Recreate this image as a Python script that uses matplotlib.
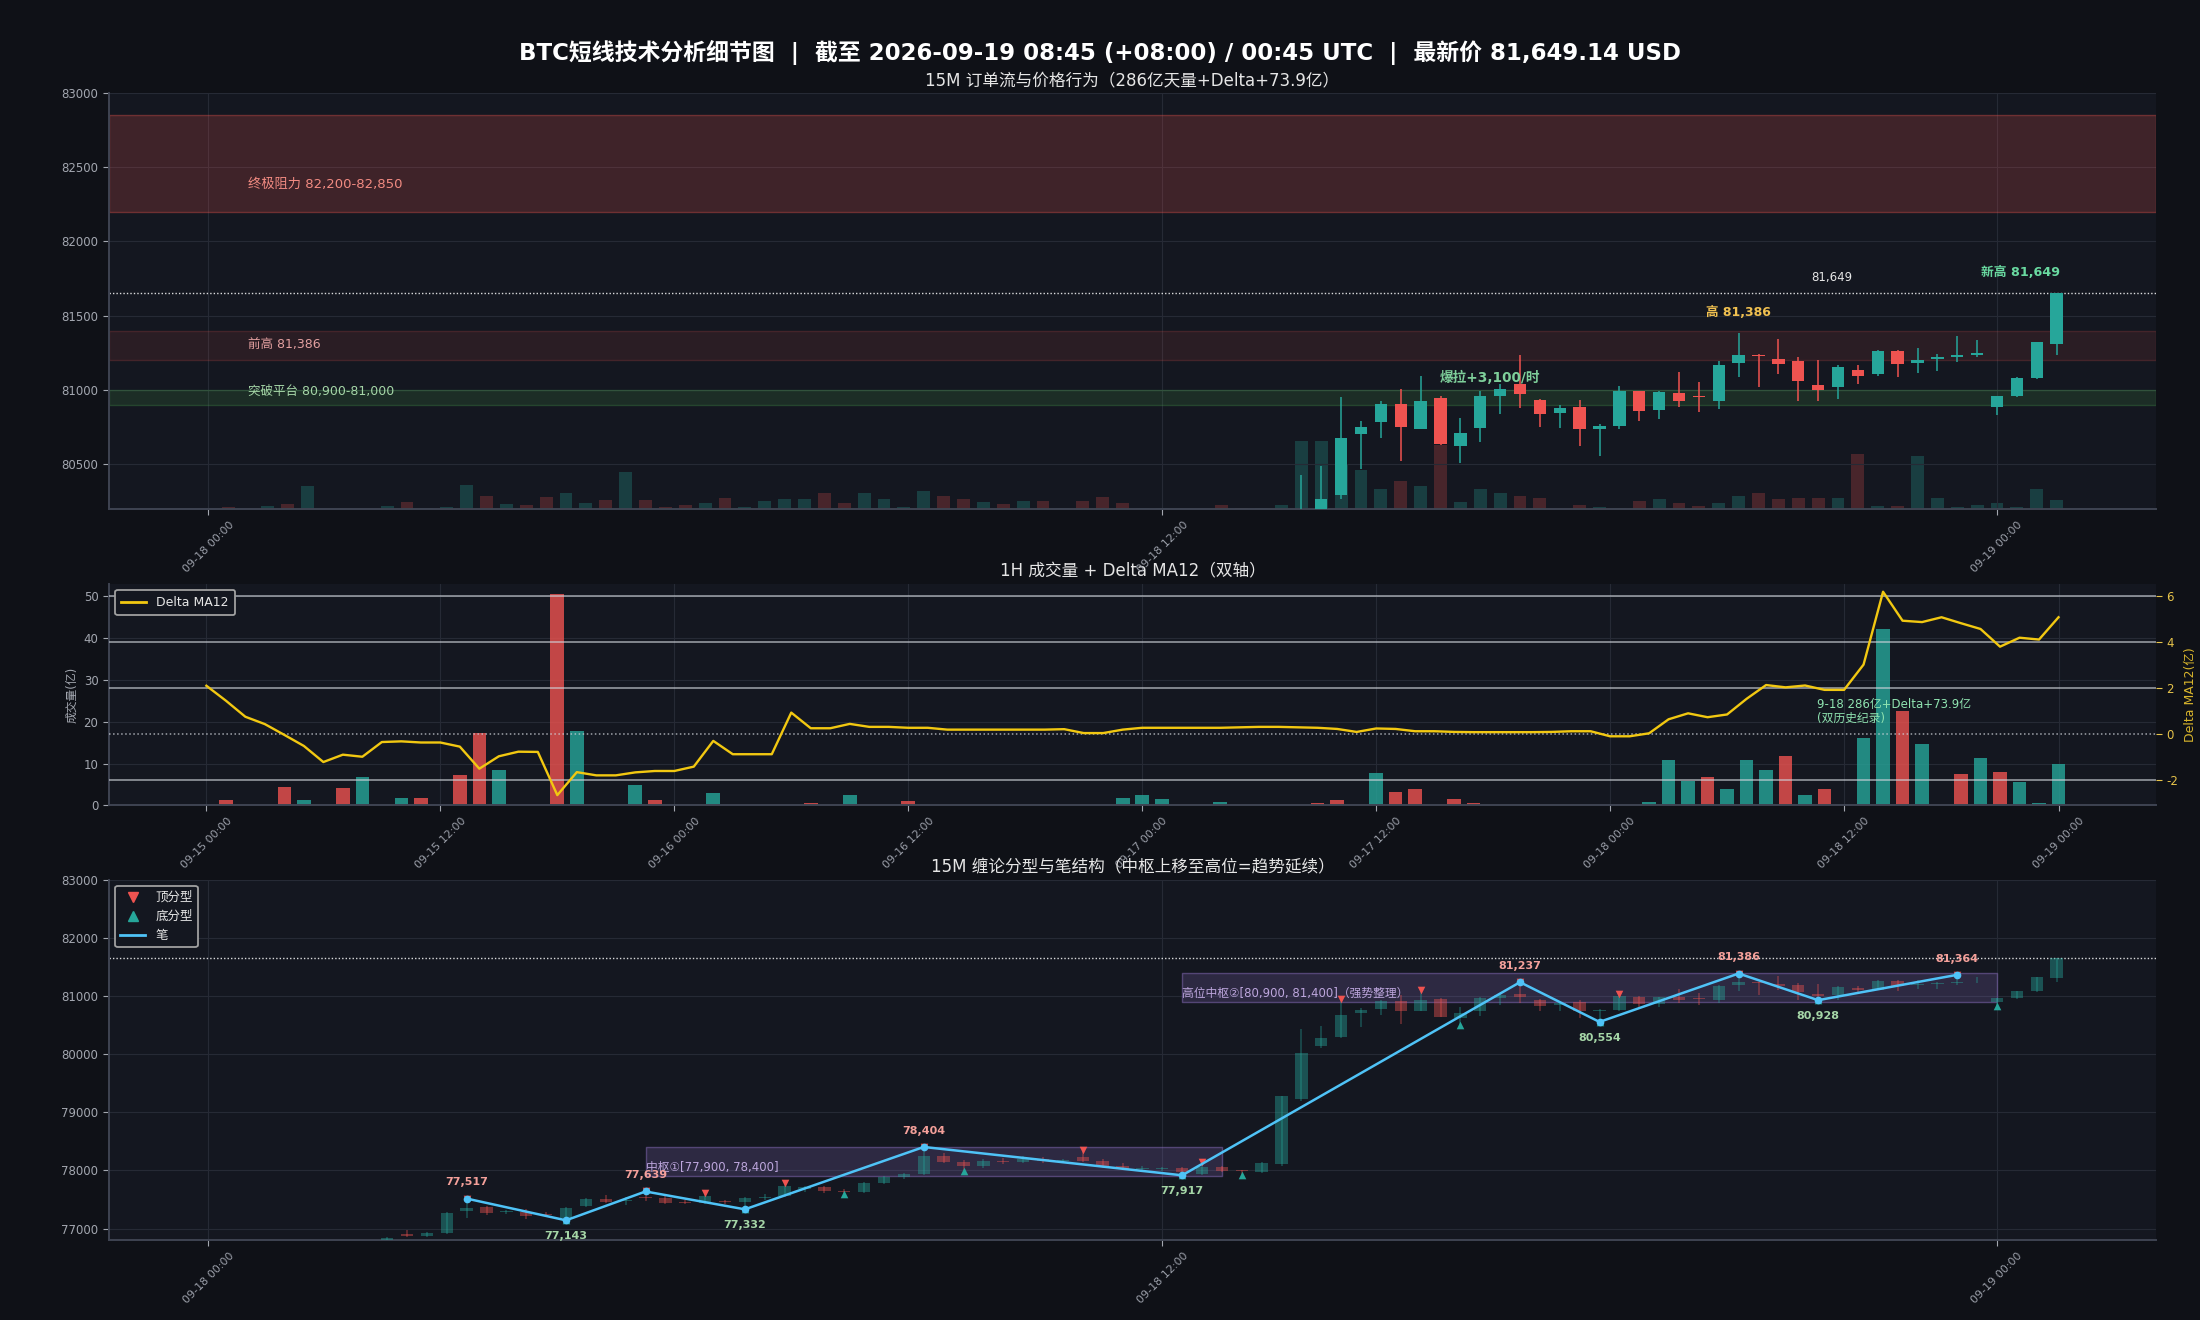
import numpy as np
import pandas as pd
import matplotlib
matplotlib.use("Agg")
import matplotlib.pyplot as plt
from matplotlib.lines import Line2D

# colours
BG = "#0f1117"
AX_BG = "#141720"
GRID = "#262a35"
SPINE = "#3f4452"
TXT = "#a3a7b0"
UP = "#26a69a"
DN = "#ef5350"
YEL = "#f2c811"
BI = "#4fc3f7"

plt.rcParams["font.family"] = ["DejaVu Sans", "Noto Sans CJK SC"]
plt.rcParams["axes.unicode_minus"] = False

# ---------------- 15M bars (feed has no 22:30-23:45 on 09-18) ----------------
t15 = list(pd.date_range("2026-09-18 00:00", "2026-09-18 22:15", freq="15min")) + \
      list(pd.date_range("2026-09-19 00:00", "2026-09-19 00:45", freq="15min"))

o15 = [76420, 76450, 76350, 76380, 76500, 76420, 76720, 76730, 76740, 76760,
       76900, 76870, 76920, 77300, 77377, 77285, 77286, 77260, 77189, 77389,
       77514, 77480, 77543, 77520, 77460, 77440, 77474, 77457, 77531, 77560,
       77690, 77720, 77650, 77630, 77780, 77880, 77940, 78250, 78150, 78080,
       78170, 78140, 78200, 78160, 78230, 78170, 78080, 78030, 78030, 78034,
       77937, 78063, 78000, 77977, 78103, 79223, 80137, 80291, 80704, 80784,
       80909, 80740, 80949, 80622, 80744, 80958, 81042, 80936, 80844, 80889,
       80738, 80758, 80991, 80864, 80977, 80960, 80928, 81184, 81236, 81209,
       81196, 81034, 81022, 81135, 81110, 81263, 81184, 81207, 81225, 81238,
       80888, 80962, 81083, 81306]
h15 = [76480, 76500, 76400, 76520, 76540, 76760, 76750, 76760, 76770, 76863,
       76971, 76935, 77290, 77517, 77390, 77320, 77331, 77290, 77370, 77520,
       77570, 77540, 77639, 77560, 77500, 77617, 77500, 77540, 77600, 77789,
       77740, 77730, 77680, 77800, 77900, 77960, 78404, 78300, 78180, 78200,
       78220, 78250, 78230, 78200, 78349, 78200, 78120, 78070, 78060, 78060,
       78154, 78080, 78010, 78140, 79280, 80429, 80487, 80953, 80793, 80929,
       81009, 81096, 80960, 80809, 80990, 81042, 81237, 80940, 80898, 80931,
       80771, 81030, 80995, 80990, 81124, 81057, 81196, 81386, 81240, 81344,
       81222, 81202, 81166, 81166, 81270, 81270, 81283, 81243, 81364, 81333,
       80960, 81090, 81324, 81649.14]
l15 = [76380, 76300, 76320, 76360, 76380, 76400, 76690, 76700, 76710, 76750,
       76857, 76860, 76900, 77189, 77229, 77250, 77160, 77200, 77143, 77370,
       77440, 77400, 77480, 77420, 77420, 77420, 77430, 77332, 77500, 77540,
       77630, 77620, 77602, 77620, 77760, 77860, 77920, 78120, 77987, 78050,
       78110, 78120, 78130, 78140, 78140, 78050, 78000, 78000, 77990, 77917,
       77920, 77970, 77920, 77960, 78080, 79200, 80100, 80270, 80471, 80676,
       80522, 80740, 80631, 80509, 80649, 80842, 80878, 80749, 80742, 80624,
       80554, 80740, 80791, 80802, 80886, 80852, 80872, 81090, 81022, 81108,
       80926, 80928, 80939, 81040, 81095, 81087, 81117, 81128, 81191, 81225,
       80830, 80950, 81075, 81236]
c15 = [76450, 76350, 76380, 76500, 76420, 76720, 76730, 76740, 76760, 76845,
       76870, 76920, 77263, 77360, 77263, 77292, 77217, 77240, 77360, 77503,
       77463, 77500, 77520, 77446, 77446, 77560, 77457, 77531, 77549, 77731,
       77720, 77650, 77630, 77780, 77880, 77940, 78250, 78150, 78080, 78170,
       78140, 78200, 78160, 78180, 78170, 78080, 78030, 78050, 78040, 77966,
       78063, 77994, 77994, 78120, 79280, 80023, 80269, 80676, 80753, 80909,
       80749, 80929, 80636, 80709, 80962, 81009, 80976, 80836, 80876, 80738,
       80756, 80996, 80858, 80989, 80924, 80952, 81169, 81236, 81228, 81178,
       81063, 81000, 81155, 81097, 81263, 81178, 81202, 81225, 81236, 81243,
       80960, 81081, 81324, 81649.14]
v15 = [0, 1.7, 0, 2.7, 5, 23, 0, 0, 0, 2.7,
       7, 0.7, 1.7, 24, 12.7, 4.7, 3.7, 11.7, 15.7, 5.7,
       8.7, 36.7, 8.7, 1.7, 3.7, 5.7, 10.7, 1.7, 7.7, 9.7,
       9.7, 15.7, 5.7, 15.7, 9.7, 1.7, 17.7, 12.7, 9.7, 6.7,
       4.7, 7.7, 7.7, 0.7, 7.7, 11.7, 5.7, 0.7, 0.7, 0.3,
       0.3, 3.7, 0.7, 0.7, 3.7, 67.7, 68, 45, 38.7, 19.7,
       27.7, 22.7, 63.7, 6.7, 19.7, 16.3, 13.3, 11.3, 0.3, 4.3,
       2.3, 1.3, 8.3, 10.3, 6.3, 3.3, 6.3, 13.3, 16.3, 9.7,
       10.7, 10.7, 10.7, 54.7, 2.7, 2.7, 52.7, 10.7, 1.7, 3.7,
       5.7, 1.7, 19.7, 8.7]

# chan structure (bar numbers into the 15M series)
top_fx = [13, 22, 25, 29, 36, 44, 50, 57, 61, 66, 71, 77, 88]
bot_fx = [18, 27, 32, 38, 49, 52, 63, 70, 81, 90]
bi_idx = [13, 18, 22, 27, 36, 49, 66, 70, 77, 81, 88]
bi_kind = ["top", "bot", "top", "bot", "top", "bot", "top", "bot", "top", "bot", "top"]
zs_start = [22, 49]
zs_end = [51, 90]
zs_low = [77900, 80900]
zs_high = [78400, 81400]
zs_text = ["中枢①[77,900, 78,400]", "高位中枢②[80,900, 81,400]（强势整理）"]

last_px = 81649.14

# ---------------- 1H bars ----------------
th = list(pd.date_range("2026-09-15 00:00", "2026-09-18 22:00", freq="h")) + \
     [pd.Timestamp("2026-09-19 00:00")]
vol1h = [0, 1.4, 0, 0, 4.3, 1.4, 0, 4.1, 6.7, 0,
         1.7, 1.9, 0, 7.2, 17.4, 8.4, 0, 0, 50.6, 17.7,
         0, 0, 5.0, 1.2, 0, 0, 2.9, 0, 0, 0,
         0, 0.5, 0, 2.4, 0, 0, 1.0, 0, 0, 0,
         0, 0, 0, 0, 0, 0, 0, 1.8, 2.5, 1.5,
         0, 0, 0.8, 0, 0, 0, 0, 0.6, 1.3, 0,
         7.7, 3.2, 3.9, 0, 1.5, 0.6, 0, 0, 0, 0,
         0, 0, 0, 0, 0.8, 10.8, 5.9, 6.8, 3.9, 10.8,
         8.4, 11.8, 2.5, 3.9, 0, 16.1, 42.2, 22.5, 14.7, 0,
         7.5, 11.3, 8.0, 5.6, 0.6, 9.9]
up1h = [1, 0, 1, 1, 0, 1, 1, 0, 1, 1,
        1, 0, 1, 0, 0, 1, 1, 1, 0, 1,
        1, 1, 1, 0, 1, 1, 1, 1, 1, 1,
        1, 0, 1, 1, 1, 1, 0, 1, 1, 1,
        1, 1, 1, 1, 1, 1, 1, 1, 1, 1,
        1, 1, 1, 1, 1, 1, 1, 0, 0, 1,
        1, 0, 0, 1, 0, 0, 1, 1, 1, 1,
        1, 1, 1, 1, 1, 1, 1, 0, 1, 1,
        1, 0, 1, 0, 1, 1, 1, 0, 1, 1,
        0, 1, 0, 1, 1, 1]
dma12 = [2.11, 1.46, 0.76, 0.44, -0.03, -0.51, -1.21, -0.89, -0.98, -0.34,
         -0.31, -0.36, -0.36, -0.54, -1.50, -0.96, -0.76, -0.77, -2.65, -1.65,
         -1.79, -1.79, -1.66, -1.60, -1.60, -1.41, -0.29, -0.87, -0.87, -0.87,
         0.94, 0.26, 0.26, 0.45, 0.32, 0.32, 0.28, 0.28, 0.20, 0.20,
         0.20, 0.20, 0.20, 0.20, 0.22, 0.05, 0.05, 0.20, 0.28, 0.28,
         0.28, 0.28, 0.28, 0.30, 0.32, 0.32, 0.30, 0.28, 0.23, 0.10,
         0.25, 0.23, 0.13, 0.13, 0.10, 0.09, 0.09, 0.09, 0.09, 0.10,
         0.13, 0.13, -0.09, -0.09, 0.04, 0.65, 0.91, 0.74, 0.86, 1.54,
         2.14, 2.04, 2.12, 1.93, 1.93, 3.03, 6.20, 4.94, 4.88, 5.09,
         4.83, 4.58, 3.81, 4.20, 4.12, 5.09]


def style(ax):
    ax.set_facecolor(AX_BG)
    ax.grid(True, color=GRID, lw=0.8)
    ax.set_axisbelow(True)
    for s in ["top", "right"]:
        ax.spines[s].set_visible(False)
    for s in ["left", "bottom"]:
        ax.spines[s].set_color(SPINE)
        ax.spines[s].set_linewidth(1.4)
    ax.tick_params(colors=TXT, labelsize=8.5, length=4)
    ax.tick_params(axis="x", labelrotation=45, labelsize=8, labelcolor="#9a9ea8")


def draw_candles(ax, o, h, l, c, alpha=1.0, width=0.62, min_body=6):
    o, h, l, c = map(np.asarray, (o, h, l, c))
    x = np.arange(len(o))
    cols = [UP if cc >= oo else DN for oo, cc in zip(o, c)]
    ax.vlines(x, l, h, colors=cols, lw=1.1, alpha=alpha, zorder=3)
    body = np.maximum(np.abs(c - o), min_body)
    ax.bar(x, body, bottom=np.minimum(o, c), width=width, color=cols,
           alpha=alpha, lw=0, zorder=4)


x15 = np.arange(len(t15))
pos15 = [i for i, t in enumerate(t15) if t.minute == 0 and t.hour % 12 == 0]
lab15 = [t15[i].strftime("%m-%d %H:%M") for i in pos15]
xh = np.arange(len(th))
posh = [i for i, t in enumerate(th) if t.hour % 12 == 0]
labh = [th[i].strftime("%m-%d %H:%M") for i in posh]

fig = plt.figure(figsize=(22, 13.2), dpi=100, facecolor=BG)
L, W = 0.0495, 0.9305
ax1 = fig.add_axes([L, 0.6144, W, 0.3155])
ax2 = fig.add_axes([L, 0.3898, W, 0.1680])
ax3 = fig.add_axes([L, 0.0604, W, 0.2732])

fig.text(0.5, 0.9600,
         "BTC短线技术分析细节图  |  截至 2026-09-19 08:45 (+08:00) / 00:45 UTC  |  最新价 81,649.14 USD",
         ha="center", va="center", color="white", fontsize=16.5, fontweight="bold")

# ---------------- top: 15M order flow ----------------
style(ax1)
ax1v = ax1.twinx()
ax1.set_zorder(ax1v.get_zorder() + 1)
ax1.patch.set_visible(False)
ax1v.patch.set_visible(True)
ax1v.set_facecolor(AX_BG)
vcols = [UP if cc >= oo else DN for oo, cc in zip(o15, c15)]
valpha = [0.28 if col == UP else 0.24 for col in vcols]
for xi, vi, col, a in zip(x15, v15, vcols, valpha):
    ax1v.bar(xi, vi, width=0.65, color=col, alpha=a, lw=0)
ax1v.set_ylim(0, max(v15) * 6.1)
ax1v.set_yticks([])
for s in ax1v.spines.values():
    s.set_visible(False)

ax1.axhspan(82200, 82850, facecolor=(0.94, 0.33, 0.31, 0.20), edgecolor=(0.94, 0.33, 0.31, 0.35), lw=1, zorder=1)
ax1.axhspan(81200, 81400, facecolor=(0.94, 0.33, 0.31, 0.10), edgecolor=(0.94, 0.33, 0.31, 0.18), lw=1, zorder=1)
ax1.axhspan(80900, 81000, facecolor=(0.30, 0.69, 0.31, 0.15), edgecolor=(0.30, 0.69, 0.31, 0.25), lw=1, zorder=1)
ax1.text(2, 82385, "终极阻力 82,200-82,850", color="#f28b82", fontsize=9.5, va="center")
ax1.text(2, 81305, "前高 81,386", color="#e3a0a0", fontsize=9, va="center")
ax1.text(2, 80990, "突破平台 80,900-81,000", color="#a5d6a7", fontsize=9, va="center")

draw_candles(ax1, o15, h15, l15, c15, min_body=8)
ax1.axhline(last_px, color="white", ls=(0, (1, 1.5)), lw=1, alpha=0.85, zorder=2)
ax1.text(81.7, 81755, f"{last_px:,.0f}", color="#e6e6e6", fontsize=8.5, ha="center", va="center")
ax1.text(77, 81518, "高 81,386", color="#f0c050", fontsize=9, fontweight="bold", ha="center", va="center")
ax1.text(91.2, 81787, "新高 81,649", color="#69d9a0", fontsize=9.2, fontweight="bold", ha="center", va="center")
ax1.text(64.5, 81080, "爆拉+3,100/时", color="#7ecf9a", fontsize=9.8, fontweight="bold", ha="center", va="center")

ax1.set_xlim(-5, len(t15) + 4)
ax1.set_ylim(80200, 83000)
ax1.set_yticks(np.arange(80500, 83001, 500))
ax1.set_xticks(pos15)
ax1.set_xticklabels(lab15)
ax1.set_title("15M 订单流与价格行为（286亿天量+Delta+73.9亿）", color="#e6e6e6", fontsize=12, pad=5)

# ---------------- middle: 1H volume + delta ----------------
style(ax2)
ax2.bar(xh, vol1h, width=0.7, color=[UP if u else DN for u in up1h], alpha=0.8, lw=0)
ax2.set_xlim(-5, len(th) + 4)
ax2.set_ylim(0, 53)
ax2.set_yticks(np.arange(0, 51, 10))
ax2.set_xticks(posh)
ax2.set_xticklabels(labh)
ax2.set_ylabel("成交量(亿)", color=TXT, fontsize=8.5)
ax2.text(82.6, 22.5, "9-18 286亿+Delta+73.9亿\n(双历史纪录)", color="#8fe3b0", fontsize=8.5,
         ha="left", va="center", linespacing=1.15, zorder=6)

ax2r = ax2.twinx()
ax2r.plot(xh, dma12, color=YEL, lw=1.7, zorder=5)
ax2r.set_ylim(-3.1, 6.55)
rt = [-2, 0, 2, 4, 6]
ax2r.set_yticks(rt)
ax2r.grid(True, axis="y", color="#cfd3da", lw=1.1, alpha=0.75)
for tk, val in zip(ax2r.yaxis.get_major_ticks(), rt):
    if val == 0:
        tk.gridline.set_linestyle(":")
for s in ax2r.spines.values():
    s.set_visible(False)
ax2r.tick_params(axis="y", colors="#e6c34a", labelsize=8.5, length=4)
ax2r.set_ylabel("Delta MA12(亿)", color="#d9b52c", fontsize=9)
leg = ax2r.legend(handles=[Line2D([], [], color=YEL, lw=2, label="Delta MA12")],
                  loc="upper left", fontsize=9, facecolor=AX_BG, edgecolor="#a0a0a0",
                  framealpha=1, labelcolor="#e6e6e6", borderpad=0.5)
leg.get_frame().set_linewidth(1.3)
ax2.set_title("1H 成交量 + Delta MA12（双轴）", color="#e6e6e6", fontsize=12, pad=5)

# ---------------- bottom: chan structure ----------------
style(ax3)
draw_candles(ax3, o15, h15, l15, c15, alpha=0.42, min_body=10)
for a, b, lo, hi, txt in zip(zs_start, zs_end, zs_low, zs_high, zs_text):
    ax3.fill_between([a, b], lo, hi, facecolor=(0.58, 0.46, 0.80, 0.20),
                     edgecolor=(0.58, 0.46, 0.80, 0.45), lw=1, zorder=2)
    ax3.text(a, lo + (hi - lo) * 0.3, txt, color="#bda6dd", fontsize=8.5, va="center", zorder=7)

ax3.axhline(last_px, color="white", ls=(0, (1, 1.5)), lw=1, alpha=0.85, zorder=2)
ax3.scatter(top_fx, [h15[i] for i in top_fx], marker="v", color=DN, s=30, zorder=5, lw=0)
ax3.scatter(bot_fx, [l15[i] for i in bot_fx], marker="^", color=UP, s=30, zorder=5, lw=0)
bi_px = [h15[i] if k == "top" else l15[i] for i, k in zip(bi_idx, bi_kind)]
ax3.plot(bi_idx, bi_px, color=BI, lw=1.8, marker="o", ms=4.5, zorder=6)
for i, p, k in zip(bi_idx, bi_px, bi_kind):
    if k == "top":
        ax3.annotate(f"{p:,.0f}", (i, p), xytext=(0, 8), textcoords="offset points",
                     ha="center", va="bottom", color="#f4a09a", fontsize=8, fontweight="bold", zorder=8)
    else:
        ax3.annotate(f"{p:,.0f}", (i, p), xytext=(0, -8), textcoords="offset points",
                     ha="center", va="top", color="#a5d6a7", fontsize=8, fontweight="bold", zorder=8)

ax3.set_xlim(-5, len(t15) + 4)
ax3.set_ylim(76800, 83000)
ax3.set_yticks(np.arange(77000, 83001, 1000))
ax3.set_xticks(pos15)
ax3.set_xticklabels(lab15)
handles = [Line2D([], [], marker="v", ls="none", color=DN, ms=7, label="顶分型"),
           Line2D([], [], marker="^", ls="none", color=UP, ms=7, label="底分型"),
           Line2D([], [], color=BI, lw=2, label="笔")]
leg3 = ax3.legend(handles=handles, loc="upper left", fontsize=9, facecolor=AX_BG,
                  edgecolor="#a0a0a0", framealpha=1, labelcolor="#e6e6e6")
leg3.get_frame().set_linewidth(1.3)
ax3.set_title("15M 缠论分型与笔结构（中枢上移至高位=趋势延续）", color="#e6e6e6", fontsize=12, pad=5)

fig.savefig("out.png", dpi=100, facecolor=BG)
